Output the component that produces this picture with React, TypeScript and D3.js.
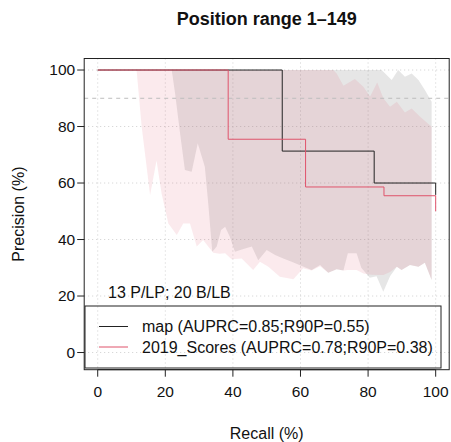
import React from 'react'
import * as d3 from 'd3'

// step curves (recall %, precision %)
const mapRecall = [0, 54.6, 81.8, 100]
const mapPrecision = [100, 71.3, 60, 55.8]
const scoreRecall = [0, 38.6, 61.5, 84.7, 100]
const scorePrecision = [100, 75.5, 58.6, 55.5, 50]

// confidence bands
const mapBandUpperRecall = [21.9, 84, 87, 88.9, 90.9, 92.9, 94.9, 96.8, 98.8]
const mapBandUpper = [100, 100, 96.5, 100, 97.6, 98.8, 96.5, 92.9, 88.8]
const mapBandLowerRecall = [21.9, 22.9, 24.3, 25.8, 27.8, 29.6, 31.7, 32.7, 33.9, 35.2, 36.5, 37.7, 39.1, 40.6,
  42.6, 45.6, 47.5, 50, 52.5, 54.9, 57.4, 60.4, 63.3, 65.8, 68.2, 70.7, 72.7, 74, 76.6, 78, 80.5, 82.5, 84.5,
  86.5, 88.5, 89.9, 92.4, 94.9, 96.8, 98.8]
const mapBandLower = [100, 91.7, 78.2, 64.6, 64, 74.1, 65.8, 52.8, 35.7, 37.5, 43.4, 44.5, 41, 35.7,
  36.5, 37.5, 32.7, 36.3, 34.5, 33.3, 32.1, 30.6, 29.2, 31, 28.2, 29.5, 29, 35.1, 35.1, 30, 26.5, 27, 21.5,
  27, 30.4, 29.2, 31, 30.4, 31.8, 25.7]

const scoreBandUpperRecall = [11.5, 69.7, 70.7, 72.7, 76.1, 78.6, 80.6, 82.7, 84.5, 86.5, 88.5, 90.9, 92.9, 95.4, 98.8]
const scoreBandUpper = [100, 100, 98.8, 94.4, 96.8, 94.1, 90.6, 95.6, 90, 87, 88.8, 85, 86.4, 83.5, 79.9]
const scoreBandLowerRecall = [11.5, 13, 15.5, 17.4, 18.9, 20.9, 23.4, 25.3, 27.3, 29.3, 31.2, 32.7, 34.2, 36,
  37.7, 39.6, 42.6, 46, 48, 50.5, 53.9, 57.9, 60.8, 63.3, 65.8, 68.2, 70.7, 72.7, 74, 76.6, 78.6, 81, 84.5,
  86.5, 88.5, 89.9, 92.4, 94.9, 96.8, 98.8]
const scoreBandLower = [100, 80, 55.8, 68, 56.3, 45.7, 41.6, 45.7, 45.7, 37.5, 39.8, 37.5, 35.3, 35,
  35.1, 33, 33.3, 29.2, 32.1, 30.4, 26.8, 25.9, 29.8, 29, 30.5, 28.2, 29.5, 29, 29.2, 29.2, 28, 27.5, 27.4,
  28.5, 30.4, 29.2, 31, 30.4, 31.8, 25.7]

const ticks = [0, 20, 40, 60, 80, 100]
const legendLabels = ['map (AUPRC=0.85;R90P=0.55)', '2019_Scores (AUPRC=0.78;R90P=0.38)']
const legendColors = ['#222222', '#DF536B']

const font = 'Liberation Sans, Arial, Helvetica, sans-serif'

export default function App() {
  const width = 451
  const height = 442
  const x = d3.scaleLinear().domain([-4, 104]).range([84.2, 449.2])
  const y = d3.scaleLinear().domain([-6.08, 104.08]).range([369.7, 58.5])

  const step = d3.line<[number, number]>().x(d => x(d[0])).y(d => y(d[1])).curve(d3.curveStepAfter)
  const poly = d3.line<[number, number]>().x(d => x(d[0])).y(d => y(d[1]))

  const band = (ur: number[], u: number[], lr: number[], l: number[]) => {
    const top = ur.map((r, i) => [r, u[i]] as [number, number])
    const bottom = lr.map((r, i) => [r, l[i]] as [number, number]).reverse()
    return poly([...top, ...bottom]) + 'Z'
  }

  const mapPts = mapRecall.map((r, i) => [r, mapPrecision[i]] as [number, number])
  const scorePts = scoreRecall.map((r, i) => [r, scorePrecision[i]] as [number, number])

  const [x0, x1] = x.range()
  const [y0, y1] = y.range()

  return <svg width={width} height={height} style={{position: 'absolute', left: 0, top: 0}}
    fontFamily={font}>
    <rect width={width} height={height} fill="white" />
    {/* grid */}
    <g stroke="#cfcfcf" strokeWidth={1} strokeDasharray="1,3">
      {ticks.map(t => <line key={'gx' + t} x1={x(t)} x2={x(t)} y1={y1} y2={y0} />)}
      {ticks.map(t => <line key={'gy' + t} x1={x0} x2={x1} y1={y(t)} y2={y(t)} />)}
    </g>
    {/* bands */}
    <path d={band(mapBandUpperRecall, mapBandUpper, mapBandLowerRecall, mapBandLower)}
      fill="#808080" fillOpacity={0.2} stroke="none" />
    <path d={band(scoreBandUpperRecall, scoreBandUpper, scoreBandLowerRecall, scoreBandLower)}
      fill="#DF536B" fillOpacity={0.12} stroke="none" />
    <line x1={x0} x2={x1} y1={y(90)} y2={y(90)} stroke="#bdbdbd" strokeDasharray="4,4" />
    {/* curves */}
    <path d={step(mapPts) ?? ''} fill="none" stroke="#222222" strokeWidth={1} />
    <path d={step(scorePts) ?? ''} fill="none" stroke="#DF536B" strokeWidth={1} />
    {/* box */}
    <rect x={x0} y={y1} width={x1 - x0} height={y0 - y1} fill="none" stroke="#222" strokeWidth={1} />
    {/* axes */}
    <g stroke="#222" strokeWidth={1}>
      <line x1={x(0)} x2={x(100)} y1={y0} y2={y0} />
      {ticks.map(t => <line key={'tx' + t} x1={x(t)} x2={x(t)} y1={y0} y2={y0 + 7} />)}
      {ticks.map(t => <line key={'ty' + t} x1={x0 - 7} x2={x0} y1={y(t)} y2={y(t)} />)}
    </g>
    <g fontSize={15.5} fill="#111">
      {ticks.map(t => <text key={'lx' + t} x={x(t)} y={397} textAnchor="middle">{t}</text>)}
      {ticks.map(t => <text key={'ly' + t} x={x0 - 9} y={y(t)} dy="0.35em" textAnchor="end">{t}</text>)}
    </g>
    <text x={(x0 + x1) / 2} y={439} textAnchor="middle" fontSize={16} fill="#111">Recall (%)</text>
    <text transform={`translate(24,${(y0 + y1) / 2}) rotate(-90)`} textAnchor="middle" fontSize={16}
      fill="#111">Precision (%)</text>
    <text x={(x0 + x1) / 2} y={25} textAnchor="middle" fontSize={18} fontWeight="bold" fill="#111">
      Position range 1–149</text>
    <text x={108} y={298} fontSize={16} fill="#111">13 P/LP; 20 B/LB</text>
    {/* legend */}
    <rect x={85} y={306} width={356} height={62} fill="none" stroke="#222" strokeWidth={1} />
    {legendLabels.map((lab, i) => <g key={lab} transform={`translate(0,${326.5 + i * 20.5})`}>
      <line x1={99} x2={128} y1={0} y2={0} stroke={legendColors[i]} strokeWidth={1} />
      <text x={142} y={0} dy="0.35em" fontSize={16} fill="#111">{lab}</text>
    </g>)}
  </svg>
}
